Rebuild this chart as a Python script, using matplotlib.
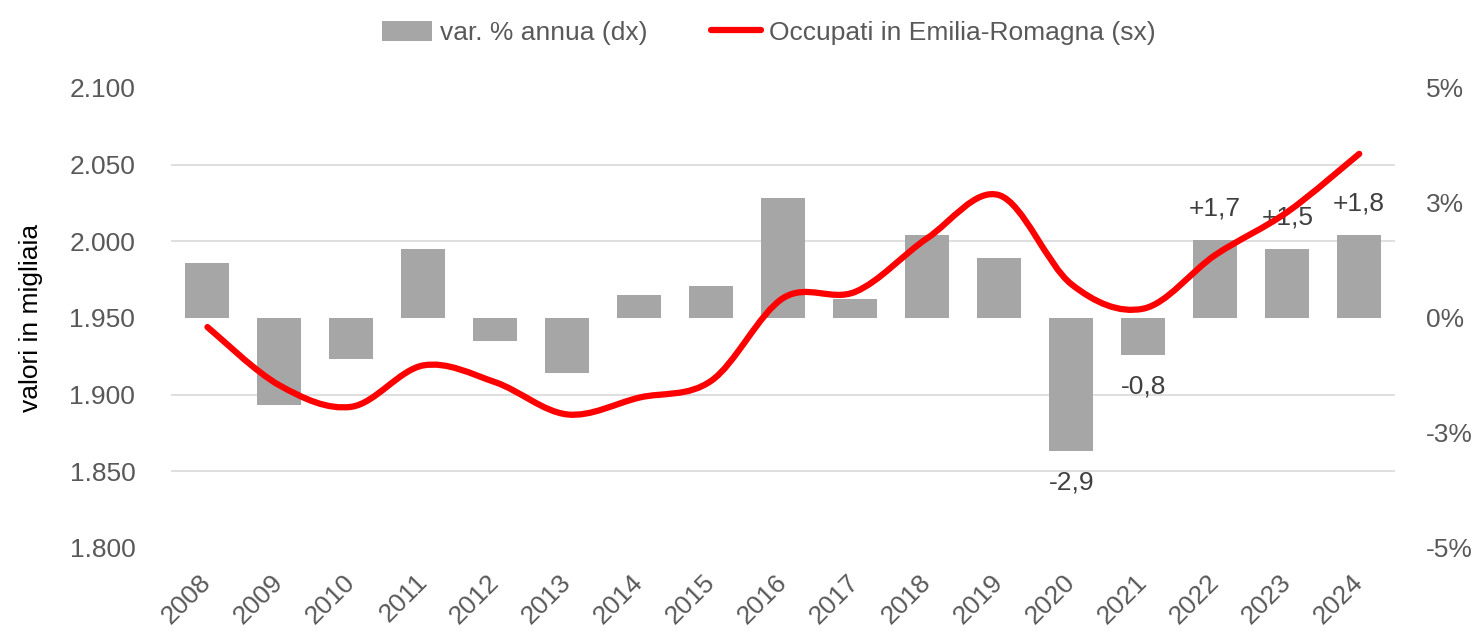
import matplotlib
matplotlib.use('Agg')
import matplotlib.pyplot as plt  # noqa
import numpy as np  # noqa
from matplotlib.path import Path  # noqa
from matplotlib.patches import PathPatch, Patch  # noqa
from matplotlib.lines import Line2D  # noqa
from matplotlib.ticker import FuncFormatter, FixedLocator  # noqa

plt.rcParams['font.family'] = ['Liberation Sans', 'DejaVu Sans']

years = [str(y) for y in range(2008, 2025)]
occupati = [1944, 1906, 1892, 1919, 1908, 1887, 1898, 1909, 1963, 1967,
            2002, 2030, 1972, 1956, 1991, 2019, 2057]
var_annua = [1.2, -1.9, -0.9, 1.5, -0.5, -1.2, 0.5, 0.7, 2.6, 0.4,
             1.8, 1.3, -2.9, -0.8, 1.7, 1.5, 1.8]
labelled_years = ['2020', '2021', '2022', '2023', '2024']

grey_text = '#595959'
bar_colour = '#A6A6A6'
red = '#FF0000'


def smooth_path(xs, ys):
    # Excel-like smoothed line: Catmull-Rom through the points as cubic Beziers
    pts = np.column_stack([xs, ys]).astype(float)
    ext = np.vstack([pts[0], pts, pts[-1]])
    verts = [tuple(pts[0])]
    codes = [Path.MOVETO]
    for i in range(1, len(ext) - 2):
        p0, p1, p2, p3 = ext[i - 1], ext[i], ext[i + 1], ext[i + 2]
        c1 = p1 + (p2 - p0) / 6.0
        c2 = p2 - (p3 - p1) / 6.0
        verts += [tuple(c1), tuple(c2), tuple(p2)]
        codes += [Path.CURVE4] * 3
    return Path(verts, codes)


def pct_label(v, pos):
    # round half away from zero, like Excel (2.5 -> 3)
    r = np.sign(v) * np.floor(abs(v) + 0.5)
    return f"{r:.0f}%"


fig = plt.figure(figsize=(14.78, 6.37), dpi=100)
ax = fig.add_axes([0.116, 0.14, 0.828, 0.722])
ax2 = ax.twinx()
ax.set_zorder(ax2.get_zorder() + 1)
ax.patch.set_visible(False)

x = np.arange(len(years))

# bars on the right axis
bars = ax2.bar(x, var_annua, width=0.61, color=bar_colour, zorder=2)
ax2.set_ylim(-5, 5)
ax2.yaxis.set_major_locator(FixedLocator([-5, -2.5, 0, 2.5, 5]))
ax2.yaxis.set_major_formatter(FuncFormatter(pct_label))
ax2.yaxis.set_minor_locator(FixedLocator(np.linspace(-5, 5, 7)))
ax2.grid(True, which='minor', color='#D9D9D9', linewidth=1.2, zorder=0)
ax2.set_axisbelow(True)
ax2.tick_params(axis='y', which='both', length=0, pad=22, labelsize=19,
                labelcolor=grey_text)

labels = []
for yr, v in zip(years, var_annua):
    if yr in labelled_years:
        labels.append(f"{v:+.1f}".replace('.', ','))
    else:
        labels.append('')
ax2.bar_label(bars, labels=labels, padding=14, fontsize=19, color='#404040')

# line on the left axis
ax.add_patch(PathPatch(smooth_path(x, occupati), facecolor='none',
                       edgecolor=red, linewidth=4.5, capstyle='round',
                       joinstyle='round', zorder=3))
ax.set_ylim(1800, 2100)
ax.set_yticks(np.arange(1800, 2101, 50))
ax.yaxis.set_major_formatter(FuncFormatter(lambda v, p: f"{v:,.0f}".replace(',', '.')))
ax.tick_params(axis='y', length=0, pad=26, labelsize=19, labelcolor=grey_text)
ax.set_ylabel('valori in migliaia', fontsize=19, color='black', labelpad=19)

ax.set_xlim(-0.5, len(years) - 0.5)
ax.set_xticks(x)
ax.set_xticklabels(years, rotation=45, ha='right', va='center',
                   rotation_mode='anchor', fontsize=19, color=grey_text)
ax.tick_params(axis='x', length=0, pad=22)

for a in (ax, ax2):
    for s in a.spines.values():
        s.set_visible(False)

handles = [Patch(facecolor=bar_colour, edgecolor='none'),
           Line2D([0], [0], color=red, linewidth=4.5, solid_capstyle='round')]
fig.legend(handles, ['var. % annua (dx)', 'Occupati in Emilia-Romagna (sx)'],
           loc='upper center', bbox_to_anchor=(0.52, 1.005), ncol=2,
           frameon=False, fontsize=19, handlelength=1.9, handleheight=0.8,
           handletextpad=0.3, columnspacing=2.4, labelcolor=grey_text)

fig.savefig('out.png', dpi=100)
